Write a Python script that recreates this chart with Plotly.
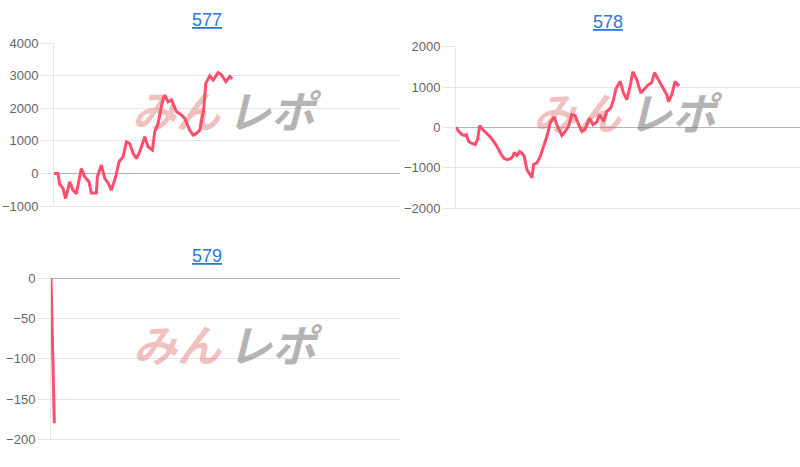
import plotly.graph_objects as go

# 577
x577 = [0, 1.2, 1.7, 2.7, 3.5, 4.7, 5.7, 6.7, 8.2, 9.2, 10.5, 11.2, 12.7, 13, 14.2, 15.2, 16.2, 17.2,
        18.5, 19.5, 20.7, 21.7, 22.7, 23.7, 24.7, 25.7, 27.2, 28.2, 29.5, 30.2, 31.2, 32.7, 33.2, 34.2,
        35.2, 36.7, 38.2, 39.2, 40.7, 41.7, 42.7, 43.7, 44.9, 45.5, 46.7, 47.7, 49.2, 50.2, 51.5, 52.7, 53.4]
y577 = [0, 0, -330, -460, -770, -260, -510, -620, 150, -100, -260, -600, -600, -100, 260, -150, -290, -510,
        -100, 360, 510, 970, 920, 620, 460, 670, 1130, 820, 720, 1280, 1540, 2300, 2400, 2200,
        2260, 1900, 1800, 1690, 1330, 1180, 1230, 1330, 2000, 2770, 3000, 2870, 3100, 3030, 2820, 2980, 2900]

# 578
x578 = [0, 0.8, 1.8, 2.5, 3.1, 3.8, 4.8, 5.8, 6.5, 7.1, 8.1, 9.1, 10.3, 11.3, 12.3, 13.3, 14.3, 15.3,
        16.3, 17.1, 17.5, 18.3, 19.1, 19.8, 20.5, 21.3, 22.3, 22.8, 23.3, 24.3, 25.3, 26.3, 27.3, 28.3,
        29.5, 30.3, 31.8, 32.8, 33.8, 34.8, 35.8, 36.8, 37.8, 38.8, 40.1, 41.1, 42.3, 43.1, 44.3, 45.3,
        46.5, 47.3, 48.1, 49.3, 50.3, 51.3, 52.3, 53.1, 54.3, 55.5, 56.8, 57.8, 58.8, 59.6, 60.8, 62.3,
        63.3, 63.8, 64.8, 65.8, 66.5, 67.1]
y578 = [0, -100, -180, -200, -180, -350, -400, -430, -300, 40, -60, -140, -240, -350, -470, -630, -760, -800,
        -780, -720, -620, -700, -600, -640, -720, -1050, -1170, -1250, -920, -880, -720, -470, -220, 110,
        260, 60, -200, -100, 25, 315, 290, 70, -100, -40, 230, 70, 130, 315, 150, 400,
        480, 690, 970, 1140, 850, 690, 1020, 1380, 1180, 850, 970, 1060, 1110, 1360, 1180, 950,
        810, 640, 810, 1140, 1060, 1030]

# 579
x579 = [0, 1]
y579 = [0, -180]

titles = ["577", "578", "579"]
y_ticks = [[-1000, 0, 1000, 2000, 3000, 4000],
           [-2000, -1000, 0, 1000, 2000],
           [-200, -150, -100, -50, 0]]

W, H = 800, 467

# panel boxes in pixels: left, right, top, bottom
boxes = [(54, 400, 43.3, 206), (456, 800, 46.7, 208), (51, 400, 278.3, 439.3)]
x_ranges = [[0, 103.7], [0, 103.3], [0, 104.8]]
y_ranges = [[-1000, 4000], [-2000, 2000], [-200, 0]]
title_pos = [(207, 20), (608, 22), (207, 256)]

line_color = 'rgb(255, 77, 109)'
grid_color = '#e6e6e6'

fig = go.Figure()

series = [(x577, y577), (x578, y578), (x579, y579)]
for i, (xs, ys) in enumerate(series):
    n = '' if i == 0 else str(i + 1)
    fig.add_trace(go.Scatter(
        x=xs, y=ys, mode='lines',
        line=dict(color=line_color, width=3),
        xaxis='x' + n, yaxis='y' + n,
        showlegend=False, hoverinfo='skip'
    ))

layout = dict(
    width=W, height=H,
    margin=dict(l=0, r=0, t=0, b=0, autoexpand=False),
    paper_bgcolor='white', plot_bgcolor='white',
    font=dict(family='Liberation Sans, Arial, sans-serif', size=13, color='#666666'),
)

for i in range(3):
    n = '' if i == 0 else str(i + 1)
    l, r, t, b = boxes[i]
    layout['xaxis' + n] = dict(
        domain=[l / W, r / W], range=x_ranges[i],
        showgrid=False, zeroline=False, showticklabels=False, ticks='',
        showline=True, linecolor=grid_color, linewidth=1,
        anchor='y' + n, fixedrange=True, automargin=False,
    )
    layout['yaxis' + n] = dict(
        domain=[1 - b / H, 1 - t / H], range=y_ranges[i],
        tickvals=y_ticks[i], ticks='outside', ticklen=12, tickcolor=grid_color,
        showgrid=True, gridcolor=grid_color, gridwidth=1,
        zeroline=True, zerolinecolor='#b5b5b5', zerolinewidth=1,
        showline=True, linecolor=grid_color, linewidth=1,
        anchor='x' + n, fixedrange=True, automargin=False,
    )

fig.update_layout(**layout)

annotations = []
for i in range(3):
    tx, ty = title_pos[i]
    annotations.append(dict(
        x=tx / W, y=1 - ty / H, xref='paper', yref='paper',
        text='<u>' + titles[i] + '</u>', showarrow=False,
        font=dict(family='Liberation Sans, Arial, sans-serif', size=18, color='#2b78d8'),
        xanchor='center', yanchor='middle'
    ))

# watermark logo text
wm_centers = [(226, 109), (627, 111), (227, 343)]
for cx, cy in wm_centers:
    annotations.append(dict(
        x=(cx - 50) / W, y=1 - cy / H, xref='paper', yref='paper',
        text='<b><i>みん</i></b>', showarrow=False,
        font=dict(family='Noto Sans CJK JP', size=44, weight=900, color='rgba(220, 90, 90, 0.38)'),
        xanchor='center', yanchor='middle'
    ))
    annotations.append(dict(
        x=(cx + 48) / W, y=1 - cy / H, xref='paper', yref='paper',
        text='<b><i>レポ</i></b>', showarrow=False,
        font=dict(family='Noto Sans CJK JP', size=44, weight=900, color='rgba(115, 115, 115, 0.55)'),
        xanchor='center', yanchor='middle'
    ))

fig.update_layout(annotations=annotations)

fig.write_html("out.html", config={'displayModeBar': False},
               post_script="document.body.style.margin='0';")
